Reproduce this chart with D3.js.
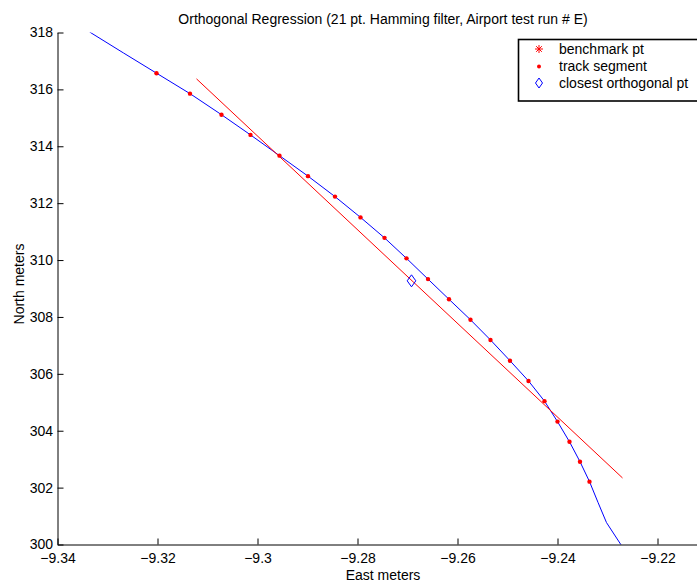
<!DOCTYPE html>
<html>
<head>
<meta charset="utf-8">
<script src="https://cdn.jsdelivr.net/npm/d3@7"></script>
<style>
  html, body { margin: 0; padding: 0; background: #fff; }
  svg { display: block; font-family: "Liberation Sans", Arial, Helvetica, sans-serif; }
</style>
</head>
<body>
<svg id="chart" width="697" height="585"></svg>
<script>
// 21-point track segment (East, North metres)
const segEast = [-9.3202, -9.3135, -9.3072, -9.3014, -9.2956, -9.2899, -9.2845, -9.2794, -9.2746, -9.2702,
                 -9.2659, -9.2617, -9.2574, -9.2534, -9.2495, -9.2458, -9.2426, -9.2400, -9.2376, -9.2355, -9.2336];
const segNorth = [316.57, 315.85, 315.11, 314.40, 313.67, 312.95, 312.23, 311.50, 310.78, 310.06,
                  309.33, 308.62, 307.90, 307.19, 306.46, 305.75, 305.04, 304.32, 303.61, 302.91, 302.21];

// Samples of the full track before and after the segment
const headEast = [-9.3336, -9.3268];
const headNorth = [318.02, 317.28];
const tailEast = [-9.2319, -9.2302, -9.2270];
const tailNorth = [301.48, 300.77, 299.91];

// Orthogonal regression line end points
const fitEast = [-9.3122, -9.2270];
const fitNorth = [316.37, 302.34];

// Closest orthogonal point on the fitted line
const closestEast = [-9.2692];
const closestNorth = [309.27];

// Axis ticks
const xTicks = [-9.34, -9.32, -9.30, -9.28, -9.26, -9.24, -9.22];
const xTickLabels = ["\u22129.34", "\u22129.32", "\u22129.3", "\u22129.28", "\u22129.26", "\u22129.24", "\u22129.22"];
const yTicks = [300, 302, 304, 306, 308, 310, 312, 314, 316, 318];

const legendLabels = ["benchmark pt", "track segment", "closest orthogonal pt"];

const svg = d3.select("#chart");
const x = d3.scaleLinear().domain([-9.34, -9.21]).range([57.5, 707.5]);
const y = d3.scaleLinear().domain([300, 318]).range([544.5, 32.5]);

svg.append("defs").append("clipPath").attr("id", "plotClip")
  .append("rect")
  .attr("x", x(-9.34)).attr("y", y(318))
  .attr("width", x(-9.21) - x(-9.34)).attr("height", y(300) - y(318));

const plot = svg.append("g").attr("clip-path", "url(#plotClip)");

const trackEast = headEast.concat(segEast, tailEast);
const trackNorth = headNorth.concat(segNorth, tailNorth);
const line = d3.line().x(d => x(d[0])).y(d => y(d[1]));

// full track (blue)
plot.append("path")
  .datum(d3.zip(trackEast, trackNorth))
  .attr("d", line)
  .attr("fill", "none").attr("stroke", "#0000ff").attr("stroke-width", 1);

// fitted line (red)
plot.append("path")
  .datum(d3.zip(fitEast, fitNorth))
  .attr("d", line)
  .attr("fill", "none").attr("stroke", "#ff0000").attr("stroke-width", 1);

// track segment points
plot.selectAll("circle.seg")
  .data(d3.zip(segEast, segNorth))
  .join("circle").attr("class", "seg")
  .attr("cx", d => x(d[0])).attr("cy", d => y(d[1]))
  .attr("r", 2.2).attr("fill", "#ff0000");

// marker paths
function diamond(cx, cy, hw, hh) {
  return `M${cx},${cy - hh}L${cx + hw},${cy}L${cx},${cy + hh}L${cx - hw},${cy}Z`;
}
function asterisk(cx, cy, r) {
  const d = r * Math.SQRT1_2;
  return `M${cx - r},${cy}L${cx + r},${cy}M${cx},${cy - r}L${cx},${cy + r}` +
         `M${cx - d},${cy - d}L${cx + d},${cy + d}M${cx - d},${cy + d}L${cx + d},${cy - d}`;
}

plot.selectAll("path.closest")
  .data(d3.zip(closestEast, closestNorth))
  .join("path").attr("class", "closest")
  .attr("d", d => diamond(x(d[0]), y(d[1]), 4.3, 6))
  .attr("fill", "none").attr("stroke", "#0000ff").attr("stroke-width", 1);

// axes
const fontSize = 14;
const yAxis = svg.append("g")
  .attr("transform", `translate(${x(-9.34)},0)`)
  .call(d3.axisLeft(y).tickValues(yTicks).tickSizeInner(-6).tickSizeOuter(0).tickPadding(4.5)
        .tickFormat(d3.format("d")));
const xAxis = svg.append("g")
  .attr("transform", `translate(0,${y(300)})`)
  .call(d3.axisBottom(x).tickValues(xTicks).tickSizeInner(-6).tickSizeOuter(0).tickPadding(8.5)
        .tickFormat((d, i) => xTickLabels[i]));

[xAxis, yAxis].forEach(g => {
  g.attr("font-family", null).attr("font-size", fontSize);
  g.selectAll("path.domain").attr("stroke", "#000").attr("stroke-width", 1);
  g.selectAll(".tick line").attr("stroke", "#000");
  g.selectAll("text").attr("fill", "#000");
});
yAxis.selectAll("text").attr("dy", "0.32em");

// title and axis labels
svg.append("text")
  .attr("x", 383).attr("y", 24)
  .attr("text-anchor", "middle").attr("font-size", fontSize)
  .text("Orthogonal Regression (21 pt. Hamming filter, Airport test run # E)");

svg.append("text")
  .attr("x", 383).attr("y", 580)
  .attr("text-anchor", "middle").attr("font-size", fontSize)
  .text("East meters");

svg.append("text")
  .attr("transform", "translate(24,284) rotate(-90)")
  .attr("text-anchor", "middle").attr("font-size", fontSize)
  .text("North meters");

// legend
const legend = svg.append("g");
legend.append("rect")
  .attr("x", 518.5).attr("y", 39.5).attr("width", 200).attr("height", 61.5)
  .attr("fill", "#fff").attr("stroke", "#000").attr("stroke-width", 1.6);

const legendY = [49, 66.5, 83];
legend.append("path")
  .attr("d", asterisk(539, legendY[0], 4))
  .attr("stroke", "#ff0000").attr("stroke-width", 1).attr("fill", "none");
legend.append("circle")
  .attr("cx", 539).attr("cy", legendY[1]).attr("r", 2).attr("fill", "#ff0000");
legend.append("path")
  .attr("d", diamond(539, legendY[2], 3.5, 5))
  .attr("stroke", "#0000ff").attr("stroke-width", 1).attr("fill", "none");

legend.selectAll("text")
  .data(legendLabels)
  .join("text")
  .attr("x", 559).attr("y", (d, i) => legendY[i])
  .attr("dy", "0.35em").attr("font-size", fontSize)
  .text(d => d);
</script>
</body>
</html>
